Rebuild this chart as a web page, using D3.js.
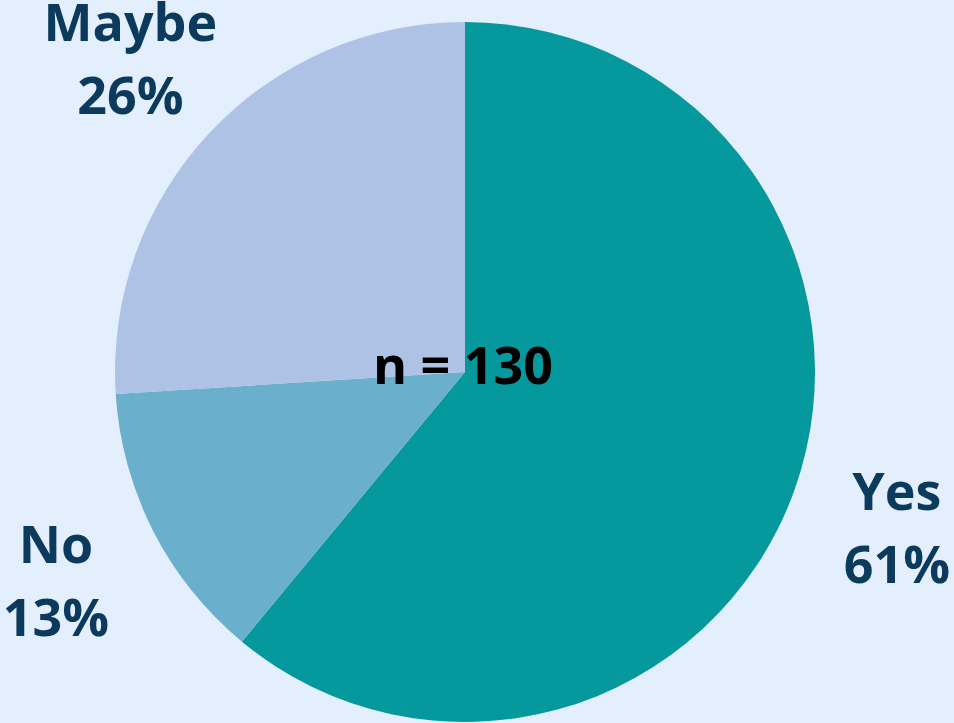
<!DOCTYPE html>
<html>
<head>
<meta charset="utf-8">
<script src="https://cdn.jsdelivr.net/npm/d3@7"></script>
<style>
  html, body { margin: 0; padding: 0; background: #e4effd; }
  svg { display: block; }
  text { font-family: "Open Sans", sans-serif; font-weight: 700; }
</style>
</head>
<body>
<svg id="chart" width="954" height="723"></svg>
<script>
// Survey answers (percent of respondents)
const categories = ["Yes", "No", "Maybe"];
const shares = [61, 13, 26];
const sampleSize = 130;
const sliceColors = ["#05999e", "#6aafcb", "#adc2e5"];

const width = 954, height = 723;
const cx = 465, cy = 372;
const radius = 350;
const labelRadius = 459;

const svg = d3.select("#chart");
const g = svg.append("g").attr("transform", `translate(${cx},${cy})`);

const data = categories.map((c, i) => ({ name: c, value: shares[i] }));

const pie = d3.pie().sort(null).value(d => d.value);
const arc = d3.arc().innerRadius(0).outerRadius(radius);
const labelArc = d3.arc().innerRadius(labelRadius).outerRadius(labelRadius);

const color = d3.scaleOrdinal().domain(categories).range(sliceColors);

const arcs = pie(data);

g.selectAll("path.slice")
  .data(arcs)
  .join("path")
  .attr("class", "slice")
  .attr("d", arc)
  .attr("fill", d => color(d.data.name));

// Two-line outer labels: category name and share
const labels = g.selectAll("g.label")
  .data(arcs)
  .join("g")
  .attr("class", "label")
  .attr("transform", d => `translate(${labelArc.centroid(d)})`);

labels.append("text")
  .attr("text-anchor", "middle")
  .attr("y", -17)
  .attr("font-size", 52)
  .attr("fill", "#0b3a5c")
  .text(d => d.data.name);

labels.append("text")
  .attr("text-anchor", "middle")
  .attr("y", 56)
  .attr("font-size", 52)
  .attr("fill", "#0b3a5c")
  .text(d => d.data.value + "%");

// Sample size in the middle
g.append("text")
  .attr("text-anchor", "middle")
  .attr("x", -2)
  .attr("y", 12)
  .attr("font-size", 52)
  .attr("fill", "#000000")
  .text(`n = ${sampleSize}`);
</script>
</body>
</html>
